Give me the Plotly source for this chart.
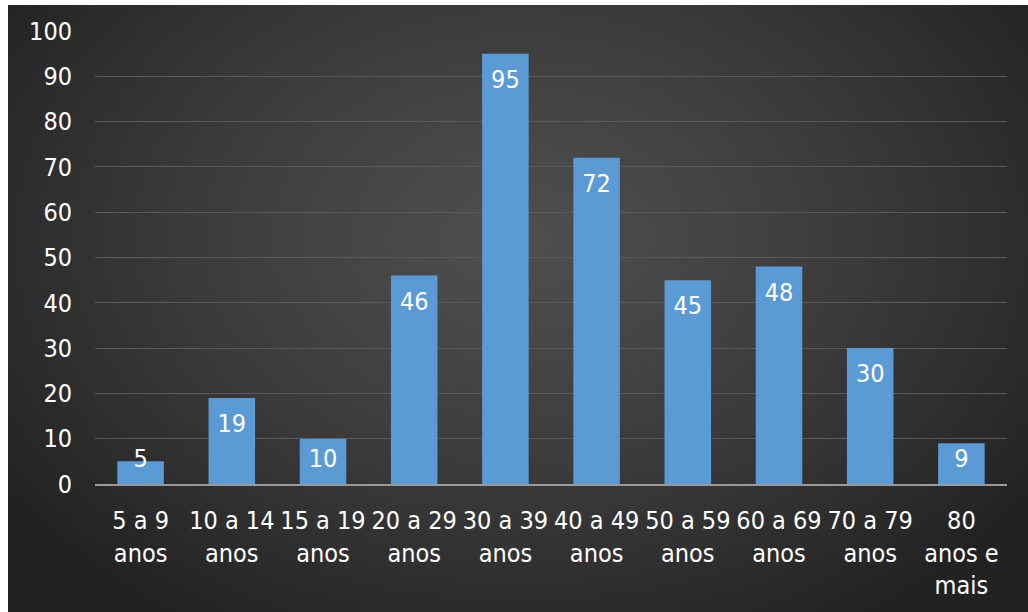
import base64, struct, zlib
import numpy as np
import plotly.graph_objects as go

categories = ["5 a 9<br>anos", "10 a 14<br>anos", "15 a 19<br>anos", "20 a 29<br>anos",
              "30 a 39<br>anos", "40 a 49<br>anos", "50 a 59<br>anos", "60 a 69<br>anos",
              "70 a 79<br>anos", "80<br>anos e<br>mais"]
values = [5, 19, 10, 46, 95, 72, 45, 48, 30, 9]
y_ticks = [0, 10, 20, 30, 40, 50, 60, 70, 80, 90, 100]

FONT = "DejaVu Sans Condensed, DejaVu Sans, sans-serif"
FS = 25


def radial_png(w=256, h=152):
    yy, xx = np.mgrid[0:h, 0:w].astype(float)
    cx, cy = w * 0.5, h * 0.38
    d = np.sqrt(((xx - cx) / (w * 0.62)) ** 2 + ((yy - cy) / (h * 0.75)) ** 2)
    d = np.clip(d, 0, 1)
    inner, outer = 78.0, 34.0
    v = (inner + (outer - inner) * d ** 1.3).astype(np.uint8)
    rows = b"".join(b"\x00" + bytes(np.repeat(r, 3)) for r in v)

    def chunk(t, data):
        c = struct.pack(">I", len(data)) + t + data
        return c + struct.pack(">I", zlib.crc32(t + data) & 0xffffffff)

    png = b"\x89PNG\r\n\x1a\n" + chunk(b"IHDR", struct.pack(">IIBBBBB", w, h, 8, 2, 0, 0, 0))
    png += chunk(b"IDAT", zlib.compress(rows, 9)) + chunk(b"IEND", b"")
    return "data:image/png;base64," + base64.b64encode(png).decode()


# plot area in pixels: x 95..1007, y 31..484 in a 1028x612 page
PX0, PX1, PY0, PY1 = 95, 1007, 31, 484
def px(x):
    return (x - PX0) / (PX1 - PX0)
def py(y):
    return (PY1 - y) / (PY1 - PY0)

# label placement: inside the bar top, but never lower than just above the axis
unit = (PY1 - PY0) / 100.0
label_y = [max(v - 28 / unit, 23 / unit) for v in values]

fig = go.Figure()
fig.add_trace(go.Bar(
    x=categories, y=values,
    marker=dict(color="#5b9bd5", line=dict(width=0)),
    hoverinfo="skip",
))
fig.add_trace(go.Scatter(
    x=categories, y=label_y, mode="text", text=[str(v) for v in values],
    textposition="middle center",
    textfont=dict(color="white", size=FS, family=FONT),
    hoverinfo="skip", cliponaxis=False,
))

fig.update_layout(
    width=1028, height=612,
    margin=dict(l=PX0, r=1028 - PX1, t=PY0, b=612 - PY1, autoexpand=False),
    paper_bgcolor="white", plot_bgcolor="rgba(0,0,0,0)",
    bargap=0.49, showlegend=False,
    font=dict(family=FONT, color="white", size=FS),
    images=[dict(source=radial_png(), xref="paper", yref="paper",
                 x=px(8), y=py(5), sizex=px(1028) - px(8), sizey=py(5) - py(612),
                 xanchor="left", yanchor="top", sizing="stretch", layer="below")],
    xaxis=dict(showgrid=False, showline=True, linecolor="#9a9a9a", linewidth=2,
               automargin=False,
               ticks="", tickfont=dict(size=FS, color="white"), ticklabelstandoff=13),
    yaxis=dict(range=[0, 100], tickvals=y_ticks, showgrid=True, gridcolor="#595959",
               gridwidth=1, zeroline=False, showline=False, ticks="", automargin=False,
               tickfont=dict(size=FS, color="white"), ticklabelstandoff=22),
)

fig.write_html("out.html", config={"displayModeBar": False},
               post_script="document.body.style.margin='0';")
